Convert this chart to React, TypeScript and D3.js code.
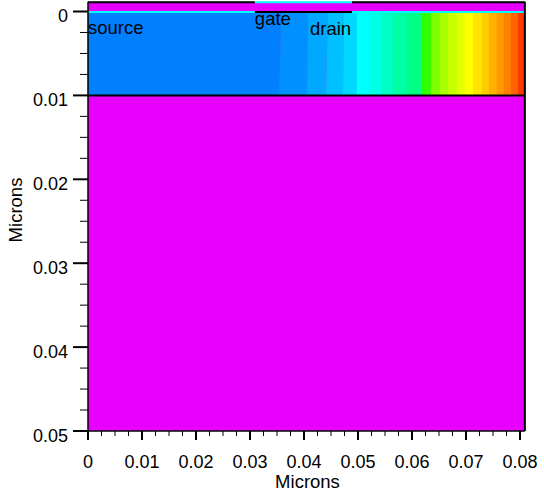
import React from "react";
import * as d3lib from "d3";

const bandColors = ["#0080ff","#0090ff","#00a8ff","#00c0ff","#00d8ff","#00ffff","#00ffe4","#00ffc4","#00ffa4","#00ff84","#30ff00","#80ff00","#a8ff00","#c8ff00","#e4ff00","#ffff00","#ffe400","#ffcc00","#ffb000","#ff9800","#ff8000","#ff6400","#ff3800"];
const edgesTop = [0,0.03583,0.04074,0.04444,0.04741,0.04981,0.05222,0.05444,0.05648,0.05907,0.06185,0.06352,0.06519,0.06667,0.06833,0.06981,0.07130,0.07296,0.07426,0.07574,0.07704,0.07833,0.07963,0.0809];
const edgesBottom = [0,0.03537,0.04056,0.04407,0.04722,0.04981,0.05222,0.05444,0.05648,0.05907,0.06185,0.06352,0.06519,0.06667,0.06833,0.06981,0.07130,0.07296,0.07426,0.07574,0.07704,0.07833,0.07963,0.0809];
const xTicks = [0,0.01,0.02,0.03,0.04,0.05,0.06,0.07,0.08];
const yTicks = [0,0.01,0.02,0.03,0.04,0.05];
const xMinor = [0.0025,0.005,0.0075,0.0125,0.015,0.0175,0.0225,0.025,0.0275,0.0325,0.035,0.0375,0.0425,0.045,0.0475,0.0525,0.055,0.0575,0.0625,0.065,0.0675,0.0725,0.075,0.0775];
const yMinor = [0.0025,0.005,0.0075,0.0125,0.015,0.0175,0.0225,0.025,0.0275,0.0325,0.035,0.0375,0.0425,0.045,0.0475];
const xMax = 0.0809;
const yTop = -0.00115;
const gateStart = 0.0309;
const gateEnd = 0.0489;
const regionLabels = [
  { text: "source", x: 0, y: 0.00265 },
  { text: "gate", x: 0.0309, y: 0.0016 },
  { text: "drain", x: 0.0411, y: 0.0028 },
];

const x = d3lib.scaleLinear().domain([0, 0.08]).range([88, 520]);
const y = d3lib.scaleLinear().domain([0, 0.05]).range([11.5, 431]);
const FONT = "'Liberation Sans', Arial, sans-serif";

export default function App() {
  const line = d3lib.line();
  return (
    <svg width={544} height={495} style={{ position: "absolute", left: 0, top: 0, background: "#fff" }} fontFamily={FONT} fontSize={18} fill="#000">
      <rect x={x(0)} y={y(yTop)} width={x(xMax) - x(0)} height={y(0.05) - y(yTop)} fill="#e800ff" />
      {bandColors.map((c, i) => (
        <path key={c} fill={c} stroke={c} strokeWidth={0.3} d={line([
          [x(edgesTop[i]), y(0)], [x(edgesTop[i + 1]), y(0)],
          [x(edgesBottom[i + 1]), y(0.01)], [x(edgesBottom[i]), y(0.01)],
        ]) + "Z"} />
      ))}
      {[[0, gateStart, "#000", "#00ffff"], [gateStart, gateEnd, "#00ffff", "#000"], [gateEnd, xMax, "#000", "#00ffff"]].map(([a, b, top, bot], i) => (
        <g key={i}>
          <line x1={x(a as number)} x2={x(b as number)} y1={y(yTop) + 0.5} y2={y(yTop) + 0.5} stroke={top as string} strokeWidth={2} />
          <line x1={x(a as number)} x2={x(b as number)} y1={y(0) + 0.5} y2={y(0) + 0.5} stroke={bot as string} strokeWidth={2} />
        </g>
      ))}
      <line x1={x(0)} x2={x(xMax)} y1={y(0.01)} y2={y(0.01)} stroke="#000" strokeWidth={2} />
      <line x1={x(0)} x2={x(0)} y1={y(yTop)} y2={y(0.05) + 9} stroke="#000" strokeWidth={1.5} />
      <line x1={x(xMax)} x2={x(xMax)} y1={y(yTop)} y2={y(0.05)} stroke="#000" strokeWidth={2} />
      <line x1={x(0)} x2={x(xMax)} y1={y(0.05)} y2={y(0.05)} stroke="#000" strokeWidth={1.5} />
      {yTicks.map(t => (
        <g key={t}>
          <line x1={73} x2={88} y1={y(t)} y2={y(t)} stroke="#000" strokeWidth={2} />
          <text x={68} y={y(t) + 10.5} textAnchor="end">{t}</text>
        </g>
      ))}
      {yMinor.map(t => <line key={t} x1={80} x2={88} y1={y(t)} y2={y(t)} stroke="#000" strokeWidth={1} />)}
      {xTicks.map(t => (
        <g key={t}>
          <line x1={x(t)} x2={x(t)} y1={431} y2={440} stroke="#000" strokeWidth={2} />
          <text x={x(t)} y={468} textAnchor="middle">{t}</text>
        </g>
      ))}
      {xMinor.map(t => <line key={t} x1={x(t)} x2={x(t)} y1={431} y2={436} stroke="#000" strokeWidth={1} />)}
      <text x={307.5} y={488} textAnchor="middle" fontSize={18.5}>Microns</text>
      <text transform="translate(22,210) rotate(-90)" textAnchor="middle" fontSize={18.5}>Microns</text>
      {regionLabels.map(l => (
        <text key={l.text} x={x(l.x)} y={y(l.y)} fontSize={18.5}>{l.text}</text>
      ))}
    </svg>
  );
}
